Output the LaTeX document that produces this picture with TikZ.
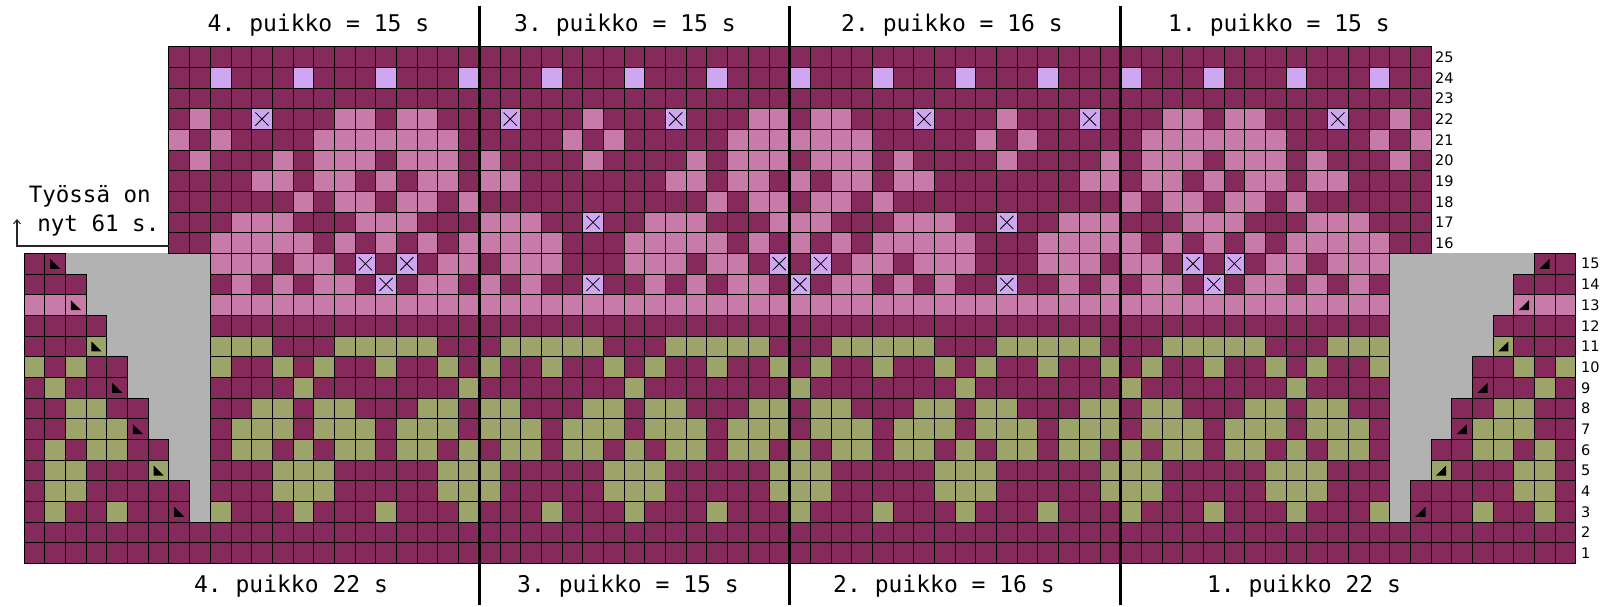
\documentclass[tikz,border=0pt]{standalone}
\usepackage{fontspec}
\newfontfamily\monof{DejaVu Sans Mono}
\newfontfamily\labf{DejaVu Sans}
\usetikzlibrary{arrows.meta,calc}
\frenchspacing
\definecolor{cD}{RGB}{133,42,91}
\definecolor{cL}{RGB}{200,122,168}
\definecolor{cV}{RGB}{206,167,240}
\definecolor{cG}{RGB}{157,164,106}
\definecolor{cA}{RGB}{178,178,178}
\def\sx{20.69}
\def\sy{20.67}
\newcommand\cellrow[2]{%
  \foreach \code [count=\i from 0] in {#2} {%
    \pgfmathsetmacro\cx{24+\sx*\i}%
    \pgfmathsetmacro\cxm{24+\sx*(74-\i)}%
    \pgfmathsetmacro\cy{46.7+(25-#1)*\sy}%
    \edef\next{\noexpand\path[cell\code] (\cx,\cy) rectangle ++(\sx,\sy); \noexpand\path[cell\code] (\cxm,\cy) rectangle ++(\sx,\sy);}%
    \next
  }%
}
\begin{document}
\begin{tikzpicture}[x=1pt,y=-1pt,
  cellbase/.style={draw=black,line width=0.7pt},
  cellD/.style={cellbase,fill=cD},
  cellL/.style={cellbase,fill=cL},
  cellG/.style={cellbase,fill=cG},
  cellV/.style={cellbase,fill=cV},
  cellX/.style={cellbase,fill=cV,path picture={
    \draw[line width=0.8pt] ($(path picture bounding box.north west)!0.18!(path picture bounding box.south east)$) -- ($(path picture bounding box.north west)!0.82!(path picture bounding box.south east)$);
    \draw[line width=0.8pt] ($(path picture bounding box.north east)!0.18!(path picture bounding box.south west)$) -- ($(path picture bounding box.north east)!0.82!(path picture bounding box.south west)$);}},
  cellA/.style={},
  cellN/.style={},
  divider/.style={line width=3pt,black},
  head/.style={font=\monof\fontsize{23}{27}\selectfont,inner sep=0pt,anchor=base},
  note/.style={font=\monof\fontsize{22.5}{27}\selectfont,inner sep=0pt,anchor=base west},
  lab/.style={font=\labf\fontsize{14.5}{16}\selectfont,inner sep=0pt,anchor=west},
  arr/.style={line width=1.1pt,draw=black!85,-{Straight Barb[length=4pt,width=7pt]}}]
\useasboundingbox (0,0) rectangle (1603,606);
% gray areas (no stitches)
\fill[cA] (24,253.4) rectangle (210.21,522.11);
\fill[cA] (1389.54,253.4) rectangle (1575.75,522.11);
% chart rows, columns 0..37, mirrored to 74..37
\cellrow{1}{D,D,D,D,D,D,D,D,D,D,D,D,D,D,D,D,D,D,D,D,D,D,D,D,D,D,D,D,D,D,D,D,D,D,D,D,D,D}
\cellrow{2}{D,D,D,D,D,D,D,D,D,D,D,D,D,D,D,D,D,D,D,D,D,D,D,D,D,D,D,D,D,D,D,D,D,D,D,D,D,D}
\cellrow{3}{D,G,D,D,G,D,D,D,A,G,D,D,D,G,D,D,D,G,D,D,D,G,D,D,D,G,D,D,D,G,D,D,D,G,D,D,D,G}
\cellrow{4}{D,G,G,D,D,D,D,D,A,D,D,D,G,G,G,D,D,D,D,D,G,G,G,D,D,D,D,D,G,G,G,D,D,D,D,D,G,G}
\cellrow{5}{D,G,G,D,D,D,G,A,A,D,D,D,G,G,G,D,D,D,D,D,G,G,G,D,D,D,D,D,G,G,G,D,D,D,D,D,G,G}
\cellrow{6}{D,G,D,G,G,D,D,A,A,D,G,G,D,G,D,G,G,D,G,G,D,G,D,G,G,D,G,G,D,G,D,G,G,D,G,G,D,G}
\cellrow{7}{D,D,G,G,G,D,A,A,A,D,G,G,G,D,G,G,G,D,G,G,G,D,G,G,G,D,G,G,G,D,G,G,G,D,G,G,G,D}
\cellrow{8}{D,D,G,G,D,D,A,A,A,D,D,G,G,D,G,G,D,D,D,G,G,D,G,G,D,D,D,G,G,D,G,G,D,D,D,G,G,D}
\cellrow{9}{D,G,D,D,D,A,A,A,A,D,D,D,D,G,D,D,D,D,D,D,D,G,D,D,D,D,D,D,D,G,D,D,D,D,D,D,D,G}
\cellrow{10}{G,D,G,D,D,A,A,A,A,G,D,D,G,D,G,D,D,G,D,D,G,D,G,D,D,G,D,D,G,D,G,D,D,G,D,D,G,D}
\cellrow{11}{D,D,D,G,A,A,A,A,A,G,G,G,D,D,D,G,G,G,G,G,D,D,D,G,G,G,G,G,D,D,D,G,G,G,G,G,D,D}
\cellrow{12}{D,D,D,D,A,A,A,A,A,D,D,D,D,D,D,D,D,D,D,D,D,D,D,D,D,D,D,D,D,D,D,D,D,D,D,D,D,D}
\cellrow{13}{L,L,L,A,A,A,A,A,A,L,L,L,L,L,L,L,L,L,L,L,L,L,L,L,L,L,L,L,L,L,L,L,L,L,L,L,L,L}
\cellrow{14}{D,D,D,A,A,A,A,A,A,D,L,D,L,D,L,L,D,X,D,L,L,D,L,D,L,D,D,X,D,D,L,D,L,D,L,L,D,X}
\cellrow{15}{D,D,A,A,A,A,A,A,A,L,L,L,D,L,L,D,X,D,X,D,L,L,D,L,L,L,D,D,D,L,L,L,D,L,L,D,X,D}
\cellrow{16}{N,N,N,N,N,N,N,D,D,L,L,L,L,L,D,L,D,L,D,L,D,L,L,L,L,L,D,D,D,L,L,L,L,L,D,L,D,L}
\cellrow{17}{N,N,N,N,N,N,N,D,D,D,L,L,L,D,D,D,L,L,L,D,D,D,L,L,L,D,D,X,D,D,L,L,L,D,D,D,L,L}
\cellrow{18}{N,N,N,N,N,N,N,D,D,D,D,D,D,L,D,L,L,D,L,L,D,L,D,D,D,D,D,D,D,D,D,D,D,L,D,L,L,D}
\cellrow{19}{N,N,N,N,N,N,N,D,D,D,D,L,L,D,L,L,D,L,D,L,L,D,L,L,D,D,D,D,D,D,D,L,L,D,L,L,D,L}
\cellrow{20}{N,N,N,N,N,N,N,D,L,D,D,D,L,D,L,L,L,D,L,L,L,D,L,D,D,D,D,L,D,D,D,D,L,D,L,L,L,D}
\cellrow{21}{N,N,N,N,N,N,N,L,D,L,D,D,D,D,L,L,L,L,L,L,L,D,D,D,D,D,L,D,L,D,D,D,D,D,L,L,L,L}
\cellrow{22}{N,N,N,N,N,N,N,D,L,D,D,X,D,D,D,L,L,D,L,L,D,D,D,X,D,D,D,L,D,D,D,X,D,D,D,L,L,D}
\cellrow{23}{N,N,N,N,N,N,N,D,D,D,D,D,D,D,D,D,D,D,D,D,D,D,D,D,D,D,D,D,D,D,D,D,D,D,D,D,D,D}
\cellrow{24}{N,N,N,N,N,N,N,D,D,V,D,D,D,V,D,D,D,V,D,D,D,V,D,D,D,V,D,D,D,V,D,D,D,V,D,D,D,V}
\cellrow{25}{N,N,N,N,N,N,N,D,D,D,D,D,D,D,D,D,D,D,D,D,D,D,D,D,D,D,D,D,D,D,D,D,D,D,D,D,D,D}
% short-row triangles
\foreach \b/\r in {1/15,2/13,3/11,4/9,5/7,6/5,7/3} {
  \pgfmathsetmacro\tx{24+\sx*\b}
  \pgfmathsetmacro\txm{24+\sx*(74-\b)}
  \pgfmathsetmacro\ty{46.7+(25-\r)*\sy}
  \fill (\tx+5.4,\ty+5.4) -- (\tx+5.4,\ty+15.4) -- (\tx+15.6,\ty+15.4) -- cycle;
  \fill (\txm+15.3,\ty+5.4) -- (\txm+15.3,\ty+15.4) -- (\txm+5.1,\ty+15.4) -- cycle;
}
% section dividers
\draw[divider] (479.18,6) -- (479.18,605);
\draw[divider] (789.53,6) -- (789.53,605);
\draw[divider] (1120.57,6) -- (1120.57,605);
% headings
\node[head] (h4) at (318.5,31.7) {4. puikko = 15 s};
\node[head] (h3) at (625,31.7) {3. puikko = 15 s};
\node[head] (h2) at (952,31.7) {2. puikko = 16 s};
\node[head] (h1) at (1279,31.7) {1. puikko = 15 s};
\node[head] (f4) at (291,592.7) {4. puikko 22 s};
\node[head] (f3) at (628,592.7) {3. puikko = 15 s};
\node[head] (f2) at (944,592.7) {2. puikko = 16 s};
\node[head] (f1) at (1304,592.7) {1. puikko 22 s};
% note with arrow
\node[note] (t1) at (28.6,202.7) {Työssä on};
\node[note] (t2) at (37.2,231.7) {nyt 61 s.};
\coordinate (aS) at (168.83,246);
\coordinate (aC) at (17,246);
\coordinate (aT) at (17,219);
\draw[arr] (aS) -- (aC) -- (aT);
% row numbers
\foreach \r in {1,...,25} {
  \pgfmathsetmacro\ly{46.7+(25-\r)*\sy+10.33}
  \pgfmathsetmacro\lx{\r>15 ? 1435 : 1581}
  \node[lab] (n\r) at (\lx,\ly) {\r};
}
\end{tikzpicture}
\end{document}
